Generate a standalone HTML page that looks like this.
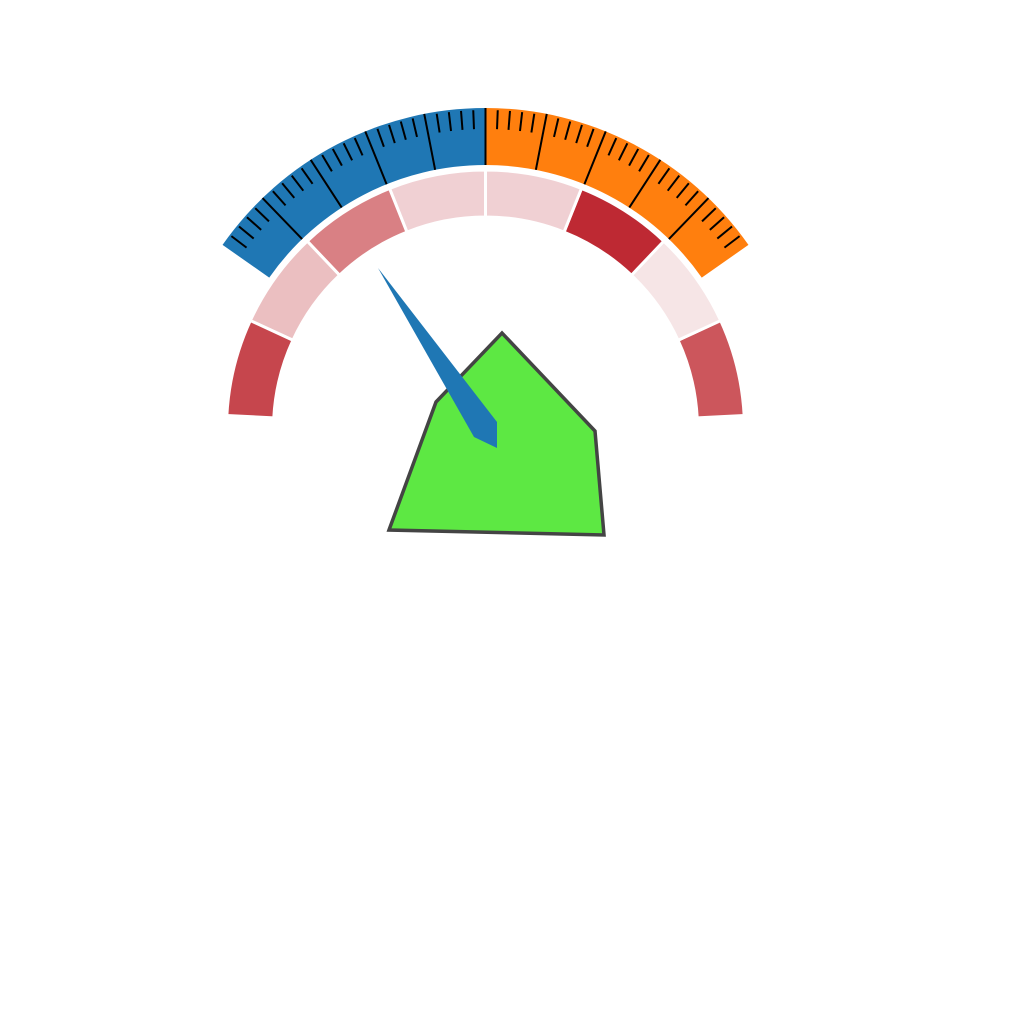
<!DOCTYPE html>
<html><head><meta charset="utf-8"><style>html,body{margin:0;padding:0;background:#fff;width:1024px;height:1024px;overflow:hidden}</style></head>
<body>
<svg id="chart" width="1024" height="1024" viewBox="0 0 1024 1024" xmlns="http://www.w3.org/2000/svg">
<g id="outer"></g>
<g id="ring"></g>
<g id="poly"></g>
<g id="needle"></g>
</svg>
<script>
// ---- data ----
const scaleHalves = ['blue', 'orange'];
const halfColors = ['#1f77b4', '#ff7f0e'];
const scaleStart = 35, scaleEnd = 145;       // degrees
const majorCount = 10, minorPerMajor = 5;
const segmentColors = ['#cc565c', '#f6e5e6', '#be2933', '#f0d0d3', '#f0d0d3', '#d98084', '#ebbfc1', '#c6464d'];
const segmentStart = 3, segmentEnd = 177;
const needleTip = [378, 268];
const needleBase = [[497, 422], [497, 448], [474, 437]];
const polyX = [389, 436, 502, 595, 604];
const polyY = [530, 402, 333, 431, 535];

// ---- geometry ----
const cx = 485.5, cy = 429;
const NS = 'http://www.w3.org/2000/svg';
function pt(r, a) { const t = a * Math.PI / 180; return [cx + r * Math.cos(t), cy - r * Math.sin(t)]; }
function arcPath(r0, r1, a0, a1) {
  const p1 = pt(r1, a0), p2 = pt(r1, a1), p3 = pt(r0, a1), p4 = pt(r0, a0);
  const large = (a1 - a0) > 180 ? 1 : 0;
  return `M${p1[0]},${p1[1]} A${r1},${r1} 0 ${large} 0 ${p2[0]},${p2[1]} L${p3[0]},${p3[1]} A${r0},${r0} 0 ${large} 1 ${p4[0]},${p4[1]} Z`;
}
function mk(tag, attrs, parent) { const e = document.createElementNS(NS, tag); for (const k in attrs) e.setAttribute(k, attrs[k]); parent.appendChild(e); return e; }

// outer band
const outer = document.getElementById('outer');
const mid = (scaleStart + scaleEnd) / 2;
scaleHalves.forEach((h, i) => {
  const a0 = i === 0 ? mid : scaleStart, a1 = i === 0 ? scaleEnd : mid;
  const p = mk('path', { d: arcPath(264, 321, a0, a1), fill: halfColors[i] }, outer);
  
  
});
const nTicks = majorCount * minorPerMajor;
const step = (scaleEnd - scaleStart) / nTicks;
for (let k = 1; k < nTicks; k++) {
  const a = scaleStart + k * step;
  const major = k % minorPerMajor === 0;
  const p0 = pt(major ? 264 : 300, a), p1 = pt(major ? 321 : 319, a);
  const l = mk('line', { x1: p0[0], y1: p0[1], x2: p1[0], y2: p1[1], stroke: '#000', 'stroke-width': 2 }, outer);
  
  
}

// inner ring
const ring = document.getElementById('ring');
const segStep = (segmentEnd - segmentStart) / segmentColors.length;
segmentColors.forEach((c, i) => {
  const a0 = segmentStart + i * segStep, a1 = a0 + segStep;
  const p = mk('path', { d: arcPath(212, 259, a0, a1), fill: c, stroke: '#fff', 'stroke-width': 3 }, ring);
  
  
});

// polygon
const poly = document.getElementById('poly');
const pg = mk('polygon', { points: polyX.map((x, i) => x + ',' + polyY[i]).join(' '), fill: '#5de843', stroke: '#444', 'stroke-width': 3.5, 'stroke-linejoin': 'miter' }, poly);



// needle
const needle = document.getElementById('needle');
const np = mk('polygon', { points: [needleTip].concat(needleBase).map(p => p.join(',')).join(' '), fill: '#1f77b4' }, needle);


</script>
</body></html>
